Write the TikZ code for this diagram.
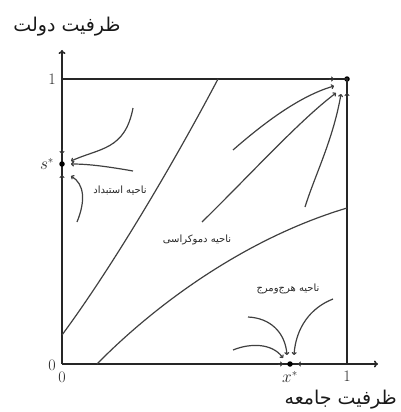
\documentclass[tikz,border=0pt]{standalone}
\usepackage{fontspec}
\newfontfamily\arabicfont[Script=Arabic]{DejaVu Sans}
\TeXXeTstate=1
\usetikzlibrary{arrows.meta}
\begin{document}
\begin{tikzpicture}[x=1pt,y=-1pt,
  axis/.style={line width=1.6pt, black!85},
  flow/.style={line width=1.2pt, black!75, -{To[length=3pt,width=5pt]}},
  bline/.style={line width=1.2pt, black!75},
  btip/.style={line width=0.9pt, black!80, -{To[length=3pt,width=5pt]}},
  fa/.style={font=\arabicfont\fontsize{10}{12}\selectfont, text=black!85, inner sep=0pt},
  fatitle/.style={font=\arabicfont\fontsize{19}{23}\selectfont, text=black!90, inner sep=0pt},
  num/.style={font=\fontsize{16}{18}\selectfont, text=black!85, inner sep=0pt},
  dot/.style={circle, fill=black, inner sep=0pt, minimum size=5.5pt}
]
\useasboundingbox (0,0) rectangle (400,412);
% frame and axes
\coordinate (O) at (62,364);
\coordinate (X) at (378,364);
\coordinate (Y) at (62,50);
\coordinate (TL) at (62,79);
\coordinate (BR) at (347,364);
\draw[axis,-{To[length=4pt,width=7pt]}] (O) -- (X);
\draw[axis,-{To[length=4pt,width=7pt]}] (O) -- (Y);
\node[dot] (TR) at (347,79) {};
\draw[axis] (TL) -- (TR.center) -- (BR);
\node[dot] (S) at (62,164) {};
\node[dot] (XS) at (290,364) {};
% labels
\node[num] (one1) at (52,79) {1};
\node[num] (zero1) at (52,365) {0};
\node[num] (zero2) at (62,377) {0};
\node[num] (one2) at (347,376) {1};
\node[num] (slab) at (47,164) {$s^*$};
\node[num] (xlab) at (290,377) {$x^*$};
\node[fatitle] (ty) at (67,27) {\beginR ظرفیت دولت\endR};
\node[fatitle, anchor=east] (tx) at (397,400) {\beginR ظرفیت جامعه\endR};
\node[fa] (ld) at (120,190) {\beginR ناحیه استبداد\endR};
\node[fa] (lm) at (197,240) {\beginR ناحیه دموکراسی\endR};
\node[fa] (la) at (288,289) {\beginR ناحیه هرج‌ومرج\endR};
% region boundaries
\coordinate (b1s) at (62,335);
\coordinate (b1e) at (218,79);
\coordinate (b2s) at (97,364);
\coordinate (b2e) at (347,208);
\draw[bline] (b1s) .. controls (110,270) and (170,170) .. (b1e);
\draw[bline] (b2s) .. controls (150,310) and (240,240) .. (b2e);
% flows to (1,1)
\coordinate (a1) at (233,150);
\coordinate (a1e) at (334,86);
\coordinate (a2) at (202,222);
\coordinate (a2e) at (336,93);
\coordinate (a3) at (305,207);
\coordinate (a3e) at (341,94);
\draw[flow] (a1) .. controls (265,122) and (300,96) .. (a1e);
\draw[flow] (a2) .. controls (250,175) and (300,120) .. (a2e);
\draw[flow] (a3) .. controls (315,175) and (333,140) .. (a3e);
\coordinate (tt1) at (329,79);
\coordinate (tt1e) at (334,79);
\draw[btip] (tt1) -- (tt1e);
\coordinate (tt2) at (347,98);
\coordinate (tt2e) at (347,93);
\draw[btip] (tt2) -- (tt2e);
% flows to s*
\coordinate (d1) at (133,108);
\coordinate (d1e) at (71,161);
\coordinate (d2) at (133,171);
\coordinate (d2e) at (71,164);
\coordinate (d3) at (77,222);
\coordinate (d3e) at (71,176);
\draw[flow] (d1) .. controls (125,150) and (100,148) .. (d1e);
\draw[flow] (d2) .. controls (110,167) and (90,164) .. (d2e);
\draw[flow] (d3) .. controls (86,200) and (84,184) .. (d3e);
\coordinate (ts1) at (62,149);
\coordinate (ts1e) at (62,154);
\draw[btip] (ts1) -- (ts1e);
\coordinate (ts2) at (62,180);
\coordinate (ts2e) at (62,175);
\draw[btip] (ts2) -- (ts2e);
% flows to x*
\coordinate (c1) at (233,350);
\coordinate (c1e) at (283,358);
\coordinate (c2) at (248,317);
\coordinate (c2e) at (287,355);
\coordinate (c3) at (333,299);
\coordinate (c3e) at (294,355);
\draw[flow] (c1) .. controls (250,343) and (272,343) .. (c1e);
\draw[flow] (c2) .. controls (270,318) and (285,332) .. (c2e);
\draw[flow] (c3) .. controls (310,308) and (296,328) .. (c3e);
\coordinate (tx1) at (278,364);
\coordinate (tx1e) at (283,364);
\draw[btip] (tx1) -- (tx1e);
\coordinate (tx2) at (303,364);
\coordinate (tx2e) at (298,364);
\draw[btip] (tx2) -- (tx2e);
\end{tikzpicture}
\end{document}
